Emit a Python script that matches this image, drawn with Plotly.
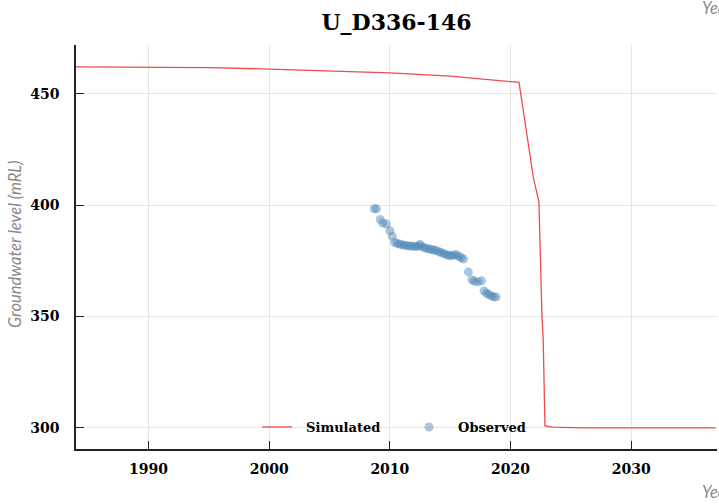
import plotly.graph_objects as go

# Simulated groundwater level series
sim_years = [1984.0, 1990.0, 1995.0, 2000.0, 2005.0, 2010.0, 2015.0, 2018.0, 2020.7,
             2021.9, 2022.35, 2022.6, 2022.7, 2022.85, 2023.5, 2026.0, 2037.0]
sim_levels = [462.2, 462.0, 461.8, 461.2, 460.3, 459.5, 458.0, 456.6, 455.2,
              412.0, 401.5, 350.0, 340.0, 300.8, 300.2, 299.9, 299.9]

# Observed groundwater levels
obs_years = [2008.7, 2008.9, 2009.2, 2009.4, 2009.7, 2010.0, 2010.2, 2010.4, 2010.6, 2010.8,
             2011.0, 2011.2, 2011.4, 2011.6, 2011.8, 2012.0, 2012.2, 2012.4, 2012.5, 2012.7,
             2012.9, 2013.1, 2013.3, 2013.5, 2013.7, 2013.9, 2014.1, 2014.3, 2014.5, 2014.7,
             2014.9, 2015.1, 2015.3, 2015.5, 2015.7, 2015.9, 2016.1, 2016.5, 2016.8, 2017.0,
             2017.3, 2017.6, 2017.8, 2018.0, 2018.2, 2018.4, 2018.6, 2018.8]
obs_levels = [398.4, 398.4, 393.6, 392.0, 391.5, 388.5, 386.0, 383.3, 382.8, 382.5,
              382.2, 382.0, 381.8, 381.7, 381.6, 381.5, 381.4, 381.6, 382.4, 381.3,
              380.8, 380.5, 380.3, 380.0, 379.8, 379.5, 379.0, 378.6, 378.2, 377.7,
              377.4, 377.3, 377.6, 377.8, 377.0, 376.4, 375.8, 370.0, 366.5, 365.8,
              365.5, 366.0, 361.5, 360.4, 359.8, 359.2, 358.8, 358.7]

x_ticks = [1990, 2000, 2010, 2020, 2030]
y_ticks = [300, 350, 400, 450]

SERIF = "DejaVu Serif"

fig = go.Figure()
fig.add_trace(go.Scatter(x=sim_years, y=sim_levels, mode="lines", name="&nbsp;&nbsp;Simulated",
                         line=dict(color="#ef4b4b", width=1.3)))
fig.add_trace(go.Scatter(x=obs_years, y=obs_levels, mode="markers", name="&nbsp;&nbsp;Observed",
                         marker=dict(color="rgba(70,130,180,0.45)", size=9,
                                     line=dict(width=0))))

axis_font = dict(family=SERIF, size=14, color="black", weight="bold")
fig.update_layout(
    width=719, height=504, autosize=False,
    margin=dict(l=76, r=2, t=45, b=55),
    plot_bgcolor="white", paper_bgcolor="white",
    title=dict(text="U_D336-146", x=(76 + 717) / 2 / 719, xanchor="center",
               y=1 - 22 / 504, yanchor="middle",
               font=dict(family=SERIF, size=22, color="black", weight="bold")),
    xaxis=dict(range=[1984.0, 2037.1], tickvals=x_ticks, ticktext=[str(v) for v in x_ticks],
               showgrid=True, gridcolor="#e6e6e6", gridwidth=1,
               showline=True, linecolor="#222", linewidth=1.5,
               ticks="inside", ticklen=8, tickcolor="#222", tickwidth=1.2,
               tickfont=axis_font, zeroline=False, ticklabelstandoff=6),
    yaxis=dict(range=[290.4, 472.0], tickvals=y_ticks, ticktext=[str(v) for v in y_ticks],
               showgrid=True, gridcolor="#e6e6e6", gridwidth=1,
               showline=True, linecolor="#222", linewidth=1.5,
               ticks="inside", ticklen=8, tickcolor="#222", tickwidth=1.2,
               tickfont=axis_font, zeroline=False, ticklabelstandoff=12),
    legend=dict(orientation="h", x=(257 - 76) / 641, xanchor="left", y=(449 - 427) / 404,
                yanchor="middle", bgcolor="rgba(0,0,0,0)",
                font=dict(family=SERIF, size=13, color="black", weight="bold"),
                entrywidth=107, entrywidthmode="pixels"),
    showlegend=True,
)

title_font = dict(family="Lato", size=16.5, color="#8a8a8a", style="italic")
fig.add_annotation(text="Groundwater level (mRL)", xref="paper", yref="paper",
                   x=(15 - 76) / 641, y=(449 - 245) / 404, xanchor="center", yanchor="middle",
                   textangle=-90, showarrow=False, font=title_font)
fig.add_annotation(text="Year", xref="paper", yref="paper",
                   x=(700 - 76) / 641, y=(449 - 8) / 404, xanchor="left", yanchor="middle",
                   showarrow=False, font=title_font)
fig.add_annotation(text="Year", xref="paper", yref="paper",
                   x=(700 - 76) / 641, y=(449 - 492) / 404, xanchor="left", yanchor="middle",
                   showarrow=False, font=title_font)

fig.write_html("out.html", config={"displayModeBar": False},
               post_script="document.body.style.margin='0';")
